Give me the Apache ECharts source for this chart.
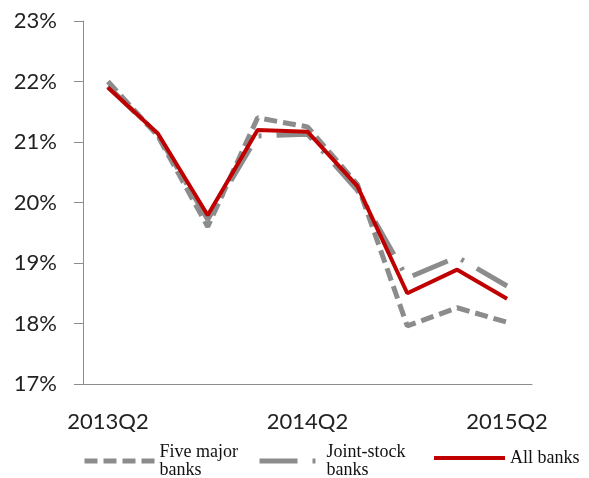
<!DOCTYPE html>
<html>
<head>
<meta charset="utf-8">
<script src="https://cdn.jsdelivr.net/npm/echarts@6/dist/echarts.min.js"></script>
<style>
  html, body { margin: 0; padding: 0; background: #fff; }
  #chart { width: 589px; height: 478px; }
</style>
</head>
<body>
<div id="chart"></div>
<script>
// Quarterly ratios (%), 2013Q2 – 2015Q2
const quarters = ['2013Q2', '2013Q3', '2013Q4', '2014Q1', '2014Q2', '2014Q3', '2014Q4', '2015Q1', '2015Q2'];
const fiveMajor  = [22.0, 21.1, 19.6, 21.4, 21.25, 20.3, 17.96, 18.26, 18.02];
const jointStock = [21.92, 21.12, 19.72, 21.1, 21.13, 20.2, 18.75, 19.1, 18.62];
const allBanks   = [21.9, 21.14, 19.79, 21.2, 21.17, 20.27, 18.5, 18.89, 18.41];
const yTicks = [17, 18, 19, 20, 21, 22, 23];

const grey = '#8c8c8c';
const red = '#c00000';
const axisFont = 'Lato, "Open Sans", sans-serif';
const legendFont = '"Liberation Serif", "DejaVu Serif", serif';

const fiveStyle  = { color: grey, width: 5, type: [13, 6], cap: 'butt' };
const jointStyle = { color: grey, width: 5, type: [38, 15, 3, 15], cap: 'butt' };
const allStyle   = { color: red, width: 4 };

const chart = echarts.init(document.getElementById('chart'), null, { renderer: 'canvas' });

// one legend block per series so each can sit at its own spot
function legendAt(name, left, top, width, lineStyle) {
  return {
    data: [name],
    left: left,
    top: top,
    padding: 0,
    itemWidth: width,
    itemHeight: 10,
    itemGap: 8,
    selectedMode: false,
    itemStyle: { opacity: 0 },
    lineStyle: lineStyle,
    textStyle: { fontFamily: legendFont, fontSize: 18, color: '#111', lineHeight: 18 }
  };
}

chart.setOption({
  animation: false,
  grid: { left: 83, right: 57, top: 21, bottom: 94 },
  legend: [
    legendAt('Five major\nbanks', 82, 443, 70, fiveStyle),
    legendAt('Joint-stock\nbanks', 257, 443, 62, jointStyle),
    legendAt('All banks', 432, 449, 71, allStyle)
  ],
  xAxis: {
    type: 'category',
    data: quarters,
    boundaryGap: true,
    axisLine: { lineStyle: { color: grey, width: 1 } },
    axisTick: { interval: 0, length: 9, lineStyle: { color: grey } },
    axisLabel: {
      interval: 3,
      margin: 27,
      fontFamily: axisFont,
      fontSize: 22,
      color: '#222'
    }
  },
  yAxis: {
    type: 'value',
    min: yTicks[0],
    max: yTicks[yTicks.length - 1],
    interval: 1,
    splitLine: { show: false },
    axisLine: { show: true, lineStyle: { color: grey, width: 1 } },
    axisTick: { show: true, length: 9, lineStyle: { color: grey } },
    axisLabel: {
      margin: 26,
      fontFamily: axisFont,
      fontSize: 22,
      color: '#222',
      formatter: v => v + '%'
    }
  },
  series: [
    {
      name: 'Five major\nbanks',
      type: 'line',
      data: fiveMajor,
      symbol: 'none',
      z: 2,
      lineStyle: fiveStyle,
      itemStyle: { color: grey }
    },
    {
      name: 'Joint-stock\nbanks',
      type: 'line',
      data: jointStock,
      symbol: 'none',
      z: 3,
      lineStyle: jointStyle,
      itemStyle: { color: grey }
    },
    {
      name: 'All banks',
      type: 'line',
      data: allBanks,
      symbol: 'none',
      z: 4,
      lineStyle: allStyle,
      itemStyle: { color: red }
    }
  ]
});
</script>
</body>
</html>
